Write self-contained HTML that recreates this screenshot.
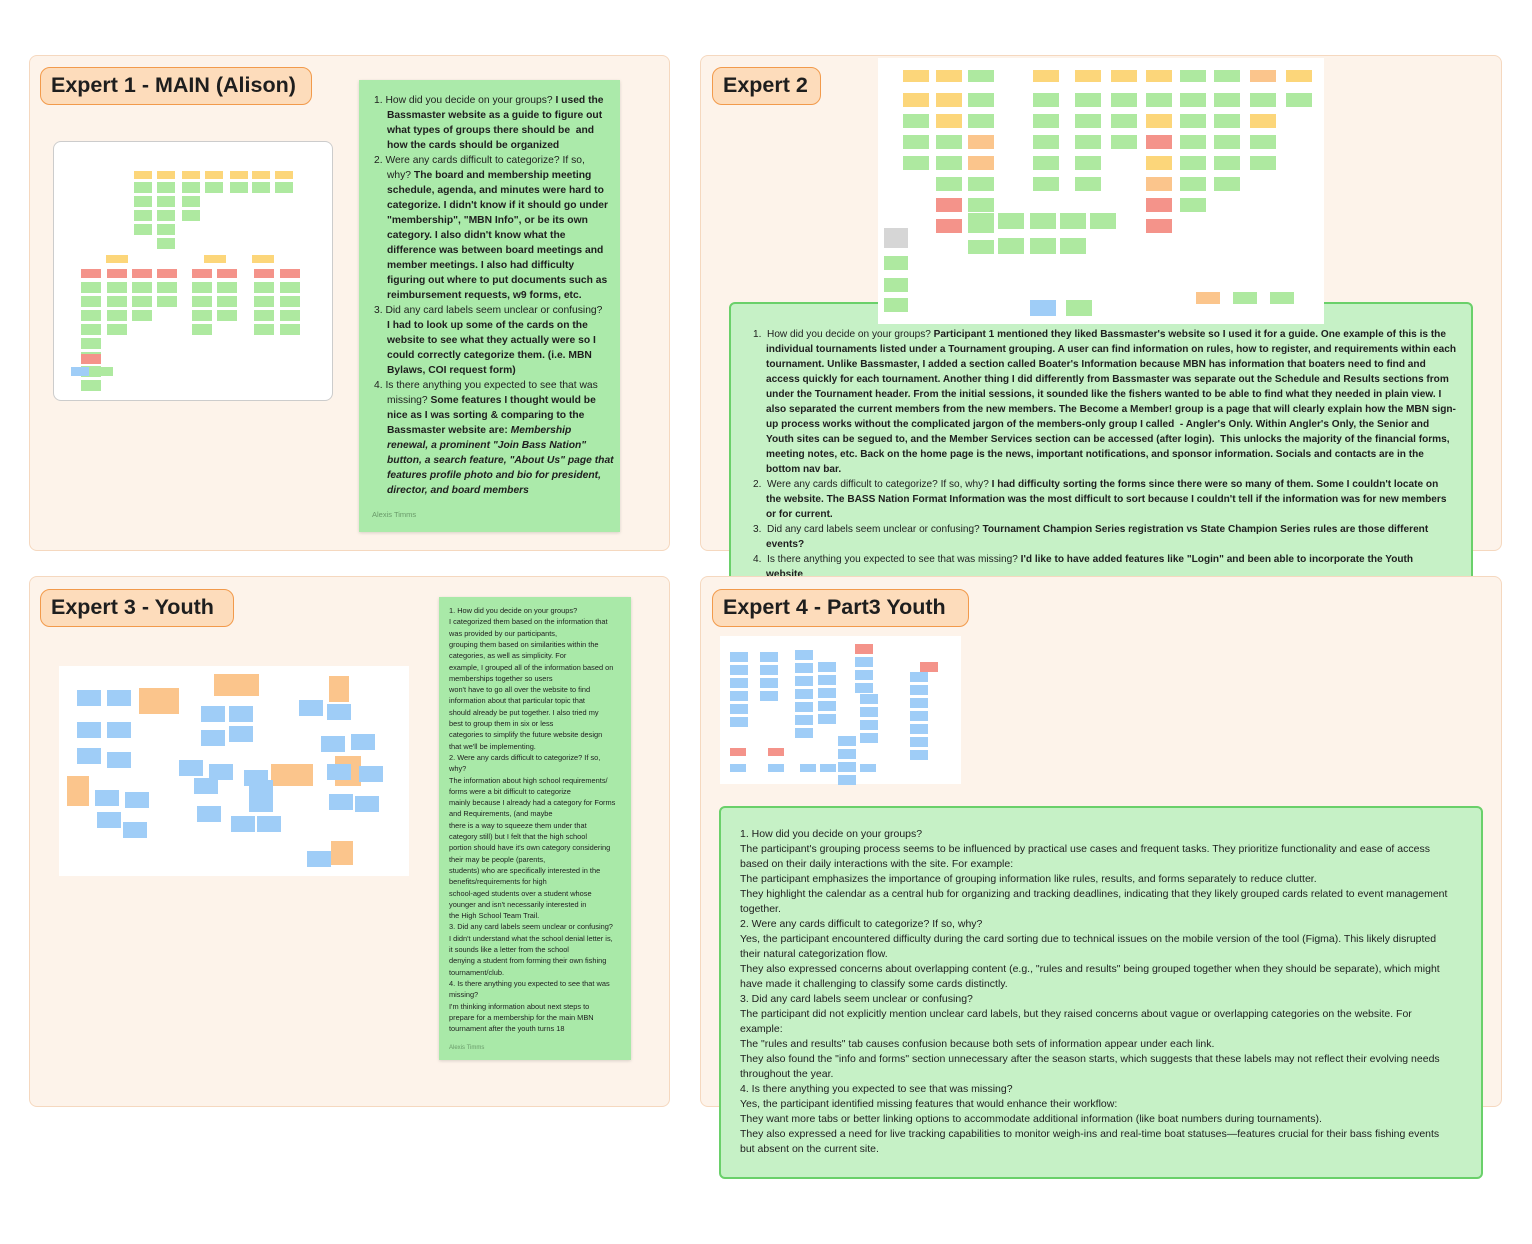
<!DOCTYPE html>
<html><head><meta charset="utf-8"><style>
*{margin:0;padding:0;box-sizing:border-box}
body{width:1532px;height:1244px;background:#fff;position:relative;overflow:hidden;font-family:"Liberation Sans",sans-serif;color:#1e1e1e}
.panel{position:absolute;background:#fdf3ea;border:1px solid #f5d8bf;border-radius:8px}
.pill{position:absolute;background:#fddcbb;border:1.5px solid #f29a4b;border-radius:10px;font-weight:bold;font-size:21.5px;line-height:34px;padding-left:10px;white-space:nowrap}
.thumb{position:absolute;background:#fff}
.s{position:absolute}
.note{position:absolute}
.ln{position:absolute;white-space:nowrap}
b{font-weight:bold}
</style></head><body>

<div class="panel" style="left:29px;top:55px;width:641px;height:496px"></div>
<div class="panel" style="left:700px;top:55px;width:802px;height:496px"></div>

<div class="pill" style="left:40px;top:67px;width:272px;height:38px">Expert 1 - MAIN (Alison)</div>
<div class="pill" style="left:712px;top:67px;width:109px;height:38px">Expert 2</div>

<div class="thumb" id="t1" style="left:53px;top:141px;width:280px;height:260px;border:1px solid #ccc;border-radius:8px"></div>

<div class="note" style="left:359px;top:80px;width:261px;height:452px;background:#abeaaa;box-shadow:0 1px 3px rgba(0,0,0,.15);font-size:10.3px;line-height:15px">
<div id="n1"></div>
<div class="ln" style="left:13px;top:427px;font-size:7.5px;color:#6a9a6a">Alexis Timms</div>
</div>

<div class="note" style="left:729px;top:302px;width:744px;height:290px;background:#c6f1c6;border:2.5px solid #6ad06a;border-radius:6px;font-size:10.1px;line-height:15px;font-weight:bold">
<div id="n2"></div>
</div>

<div class="thumb" id="t2" style="left:878px;top:58px;width:446px;height:266px"></div>

<div class="panel" style="left:29px;top:576px;width:641px;height:531px"></div>
<div class="panel" style="left:700px;top:576px;width:802px;height:531px"></div>
<div class="pill" style="left:40px;top:589px;width:194px;height:38px">Expert 3 - Youth</div>
<div class="pill" style="left:712px;top:589px;width:257px;height:38px">Expert 4 - Part3 Youth</div>

<div class="thumb" id="t3" style="left:59px;top:666px;width:350px;height:210px"></div>
<div class="note" style="left:439px;top:597px;width:192px;height:463px;background:#a9e9a8;box-shadow:0 1px 3px rgba(0,0,0,.15);font-size:7.4px;line-height:11.3px">
<div id="n3"></div>
<div class="ln" style="left:10px;top:446px;font-size:6px;color:#6a9a6a">Alexis Timms</div>
</div>

<div class="thumb" id="t4" style="left:720px;top:636px;width:241px;height:148px"></div>
<div class="note" style="left:719px;top:806px;width:764px;height:373px;background:#c6f1c6;border:2.5px solid #6ad06a;border-radius:6px;font-size:10.5px;line-height:15px">
<div id="n4"></div>
</div>

<script>
function lines(id,x0,y0,lh,arr){var h='';arr.forEach(function(l,i){var x=x0;var t=l;if(t.charAt(0)=='>'){x+=13;t=t.slice(1);}h+='<div class="ln" style="left:'+x+'px;top:'+(y0+i*lh)+'px">'+t+'</div>';});document.getElementById(id).innerHTML=h;}
lines('n1',15,13,15,[
'1. How did you decide on your groups? <b>I used the</b>',
'><b>Bassmaster website as a guide to figure out</b>',
'><b>what types of groups there should be&nbsp; and</b>',
'><b>how the cards should be organized</b>',
'2. Were any cards difficult to categorize? If so,',
'>why? <b>The board and membership meeting</b>',
'><b>schedule, agenda, and minutes were hard to</b>',
'><b>categorize. I didn\'t know if it should go under</b>',
'><b>"membership", "MBN Info", or be its own</b>',
'><b>category. I also didn\'t know what the</b>',
'><b>difference was between board meetings and</b>',
'><b>member meetings. I also had difficulty</b>',
'><b>figuring out where to put documents such as</b>',
'><b>reimbursement requests, w9 forms, etc.</b>',
'3. Did any card labels seem unclear or confusing?',
'><b>I had to look up some of the cards on the</b>',
'><b>website to see what they actually were so I</b>',
'><b>could correctly categorize them. (i.e. MBN</b>',
'><b>Bylaws, COI request form)</b>',
'4. Is there anything you expected to see that was',
'>missing? <b>Some features I thought would be</b>',
'><b>nice as I was sorting &amp; comparing to the</b>',
'><b>Bassmaster website are: <i>Membership</i></b>',
'><b><i>renewal, a prominent "Join Bass Nation"</i></b>',
'><b><i>button, a search feature, "About Us" page that</i></b>',
'><b><i>features profile photo and bio for president,</i></b>',
'><b><i>director, and board members</i></b>']);
lines('n2',22,23,15,[
'<span style="font-weight:normal">1.&nbsp; How did you decide on your groups?</span> Participant 1 mentioned they liked Bassmaster\'s website so I used it for a guide. One example of this is the',
'>individual tournaments listed under a Tournament grouping. A user can find information on rules, how to register, and requirements within each',
'>tournament. Unlike Bassmaster, I added a section called Boater\'s Information because MBN has information that boaters need to find and',
'>access quickly for each tournament. Another thing I did differently from Bassmaster was separate out the Schedule and Results sections from',
'>under the Tournament header. From the initial sessions, it sounded like the fishers wanted to be able to find what they needed in plain view. I',
'>also separated the current members from the new members. The Become a Member! group is a page that will clearly explain how the MBN sign-',
'>up process works without the complicated jargon of the members-only group I called&nbsp; - Angler\'s Only. Within Angler\'s Only, the Senior and',
'>Youth sites can be segued to, and the Member Services section can be accessed (after login).&nbsp; This unlocks the majority of the financial forms,',
'>meeting notes, etc. Back on the home page is the news, important notifications, and sponsor information. Socials and contacts are in the',
'>bottom nav bar.',
'<span style="font-weight:normal">2.&nbsp; Were any cards difficult to categorize? If so, why?</span> I had difficulty sorting the forms since there were so many of them. Some I couldn\'t locate on',
'>the website. The BASS Nation Format Information was the most difficult to sort because I couldn\'t tell if the information was for new members',
'>or for current.',
'<span style="font-weight:normal">3.&nbsp; Did any card labels seem unclear or confusing?</span> Tournament Champion Series registration vs State Champion Series rules are those different',
'>events?',
'<span style="font-weight:normal">4.&nbsp; Is there anything you expected to see that was missing?</span> I\'d like to have added features like "Login" and been able to incorporate the Youth',
'>website']);
lines('n3',10,8,11.3,[
'1. How did you decide on your groups?','I categorized them based on the information that','was provided by our participants,','grouping them based on similarities within the','categories, as well as simplicity. For','example, I grouped all of the information based on','memberships together so users','won\'t have to go all over the website to find','information about that particular topic that','should already be put together. I also tried my','best to group them in six or less','categories to simplify the future website design','that we\'ll be implementing.','2. Were any cards difficult to categorize? If so,','why?','The information about high school requirements/','forms were a bit difficult to categorize','mainly because I already had a category for Forms','and Requirements, (and maybe','there is a way to squeeze them under that','category still) but I felt that the high school','portion should have it\'s own category considering','their may be people (parents,','students) who are specifically interested in the','benefits/requirements for high','school-aged students over a student whose','younger and isn\'t necessarily interested in','the High School Team Trail.','3. Did any card labels seem unclear or confusing?','I didn\'t understand what the school denial letter is,','it sounds like a letter from the school','denying a student from forming their own fishing','tournament/club.','4. Is there anything you expected to see that was','missing?','I\'m thinking information about next steps to','prepare for a membership for the main MBN','tournament after the youth turns 18']);
lines('n4',19,19,15,[
'1. How did you decide on your groups?',
'The participant\'s grouping process seems to be influenced by practical use cases and frequent tasks. They prioritize functionality and ease of access',
'based on their daily interactions with the site. For example:',
'The participant emphasizes the importance of grouping information like rules, results, and forms separately to reduce clutter.',
'They highlight the calendar as a central hub for organizing and tracking deadlines, indicating that they likely grouped cards related to event management',
'together.',
'2. Were any cards difficult to categorize? If so, why?',
'Yes, the participant encountered difficulty during the card sorting due to technical issues on the mobile version of the tool (Figma). This likely disrupted',
'their natural categorization flow.',
'They also expressed concerns about overlapping content (e.g., "rules and results" being grouped together when they should be separate), which might',
'have made it challenging to classify some cards distinctly.',
'3. Did any card labels seem unclear or confusing?',
'The participant did not explicitly mention unclear card labels, but they raised concerns about vague or overlapping categories on the website. For',
'example:',
'The "rules and results" tab causes confusion because both sets of information appear under each link.',
'They also found the "info and forms" section unnecessary after the season starts, which suggests that these labels may not reflect their evolving needs',
'throughout the year.',
'4. Is there anything you expected to see that was missing?',
'Yes, the participant identified missing features that would enhance their workflow:',
'They want more tabs or better linking options to accommodate additional information (like boat numbers during tournaments).',
'They also expressed a need for live tracking capabilities to monitor weigh-ins and real-time boat statuses—features crucial for their bass fishing events',
'but absent on the current site.']);
var Y='#fcd67a',G='#aee9a0',R='#f4938a',B='#9fcdf7',O='#fbc58c',P='#d6d6d6';
function st(id,list){var e=document.getElementById(id),h='';list.forEach(function(a){h+='<div class="s" style="left:'+a[0]+'px;top:'+a[1]+'px;width:'+a[2]+'px;height:'+a[3]+'px;background:'+a[4]+'"></div>';});e.innerHTML+=h;}
var a=[];
[80,103,128,151,176,198,221].forEach(function(x,i){a.push([x,29,18,8,Y]);var n=[4,5,3,1,1,1,1][i];for(var k=0;k<n;k++)a.push([x,40+k*14,18,11,G]);});
a.push([52,113,22,8,Y],[150,113,22,8,Y],[198,113,22,8,Y]);
[27,53,78,103,138,163,200,226].forEach(function(x,i){a.push([x,127,20,9,R]);var n=[8,4,3,2,4,3,4,4][i];for(var k=0;k<n;k++)a.push([x,140+k*14,20,11,G]);});
a.push([27,212,20,10,R],[17,225,18,9,B],[41,225,18,9,G]);
st('t1',a);
a=[];
var c2=[[25,Y,[Y,G,G,G]],[58,Y,[Y,Y,G,G,G,R,R]],[90,G,[G,G,O,O,G,G,G,G]],[155,Y,[G,G,G,G,G]],[197,Y,[G,G,G,G,G]],[233,Y,[G,G,G]],[268,Y,[G,Y,R,Y,O,R,R]],[302,G,[G,G,G,G,G,G]],[336,G,[G,G,G,G,G]],[372,O,[G,Y,G,G]],[408,Y,[G]]];
c2.forEach(function(c){a.push([c[0],12,26,12,c[1]]);c[2].forEach(function(k,i){a.push([c[0],35+i*21,26,14,k]);});});
a.push([6,170,24,20,P],[6,198,24,14,G],[6,220,24,14,G],[6,240,24,14,G],[90,155,26,16,G],[120,155,26,16,G],[152,155,26,16,G],[182,155,26,16,G],[212,155,26,16,G],[120,180,26,16,G],[152,180,26,16,G],[182,180,26,16,G],[152,242,26,16,B],[188,242,26,16,G],[318,234,24,12,O],[355,234,24,12,G],[392,234,24,12,G]);
st('t2',a);
a=[[80,22,40,26,O],[155,8,45,22,O],[270,10,20,26,O],[8,110,22,30,O],[276,90,26,30,O],[272,175,22,24,O],[212,98,42,22,O]];
[[18,24],[48,24],[18,56],[48,56],[18,82],[48,86]].forEach(function(p){a.push([p[0],p[1],24,16,B]);});
[[142,40],[170,40],[142,64],[170,60],[120,94],[150,98],[185,104],[190,130],[135,112],[138,140],[172,150],[198,150],[240,34],[268,38],[262,70],[292,68],[268,98],[300,100],[36,124],[66,126],[38,146],[64,156],[270,128],[296,130],[248,185],[190,114]].forEach(function(p){a.push([p[0],p[1],24,16,B]);});
st('t3',a);
a=[];
[[10,16,6],[40,16,4],[75,14,7],[98,26,5],[135,8,4],[140,58,4],[118,100,4],[190,36,7],[200,26,1]].forEach(function(c){for(var k=0;k<c[2];k++)a.push([c[0],c[1]+k*13,18,10,k==0&&(c[0]==135||c[0]==200)?R:B]);});
a.push([10,112,16,8,R],[48,112,16,8,R],[10,128,16,8,B],[48,128,16,8,B],[80,128,16,8,B],[100,128,16,8,B],[120,128,16,8,B],[140,128,16,8,B]);
st('t4',a);
</script>
</body></html>
